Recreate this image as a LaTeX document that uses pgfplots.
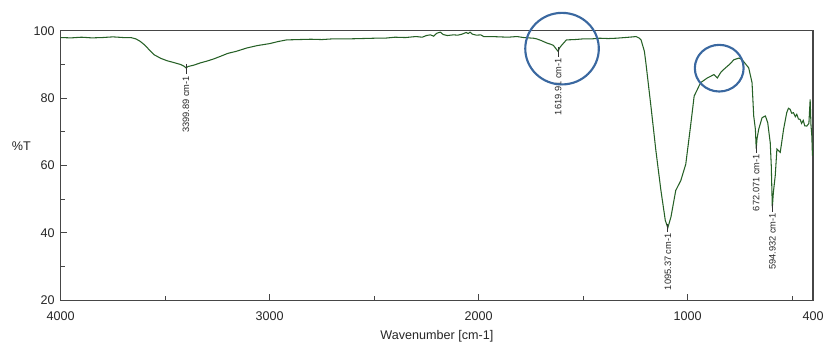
\documentclass[border=0pt]{standalone}
\usepackage{fontspec}
\setmainfont{Liberation Sans}
\usepackage{pgfplots}
\pgfplotsset{compat=1.18}
\definecolor{trace}{RGB}{38,96,38}
\definecolor{circ}{RGB}{58,104,160}
\definecolor{axc}{RGB}{70,70,70}
\begin{document}
\begin{tikzpicture}
\begin{axis}[
  scale only axis, width=567.75pt, height=203.25pt,
  xmin=400, xmax=4000, ymin=20, ymax=100, x dir=reverse,
  clip=false,
  axis line style={axc, line width=1pt},
  xtick={1000,2000,3000,4000}, xticklabels={1000,2000,3000,4000},
  extra x ticks={400}, extra x tick labels={400}, extra x tick style={major tick length=0pt},
  minor xtick={500,1500,2500,3500},
  ytick={20,40,60,80,100},
  minor ytick={30,50,70,90},
  tick align=inside, major tick length=5pt, minor tick length=3pt,
  tick style={axc, line width=0.8pt},
  xtick pos=bottom, ytick pos=left,
  /pgf/number format/assume math mode=true,
  /pgf/number format/1000 sep={},
  tick label style={font=\fontsize{9.5}{10}\selectfont, text=black!85},
  xticklabel style={yshift=-5pt},
  yticklabel style={xshift=-1pt},
  xlabel={Wavenumber [cm-1]},
  xlabel style={font=\fontsize{9.5}{10}\selectfont, text=black!85, yshift=-1pt},
]
\addplot[trace, line width=0.8pt] coordinates {
(4000,98.0)(3950,97.9)(3900,98.1)(3850,97.9)(3800,98.0)(3750,98.2)(3700,98.0)(3664,98.0)
(3640,97.6)(3620,96.9)(3600,95.9)(3575,94.3)(3553,92.9)(3520,91.8)(3490,91.1)(3460,90.6)
(3426,90.0)(3410,89.5)(3400,89.0)(3390,89.4)(3363,89.8)(3330,90.5)(3300,91.0)(3270,91.6)
(3236,92.4)(3200,93.3)(3160,93.9)(3109,94.9)(3060,95.6)(3000,96.2)(2960,96.8)(2919,97.3)
(2860,97.4)(2802,97.5)(2750,97.4)(2700,97.6)(2626,97.6)(2560,97.7)(2500,97.8)(2451,97.8)
(2400,98.1)(2350,98.0)(2300,98.3)(2270,98.1)(2250,98.6)(2231,98.8)(2215,98.4)(2200,99.3)
(2183,99.6)(2170,98.9)(2150,98.6)(2120,98.8)(2100,98.7)(2080,99.0)(2060,99.5)(2050,99.2)
(2041,99.6)(2030,99.0)(2010,98.7)(1990,98.8)(1976,98.3)(1940,98.3)(1900,98.2)(1860,98.1)
(1817,98.3)(1785,98.0)(1738,97.8)(1722,97.6)(1700,97.1)(1675,96.4)(1655,96.0)(1643,95.7)
(1620,93.9)(1612,95.0)(1603,95.7)(1580,97.3)(1540,97.4)(1500,97.6)(1460,97.6)(1421,97.8)
(1380,97.7)(1342,97.8)(1300,98.0)(1262,98.2)(1247,98.3)(1231,97.8)(1223,97.3)(1207,93.9)
(1199,90.0)(1175,77.2)(1152,64.4)(1128,52.6)(1107,43.7)(1095,41.5)(1080,44.7)(1057,52.6)
(1033,55.5)(1009,60.4)(985,72.3)(969,80.6)(938,84.6)(906,86.0)(874,87.0)(858,86.0)
(840,87.8)(819,89.0)(800,90.0)(779,91.4)(755,91.9)(739,91.4)(708,89.0)(692,84.6)
(684,74.7)(676,70.8)(672,65.0)(668,68.0)(660,70.8)(644,74.2)(628,74.7)(617,72.7)
(605,66.8)(600,60.0)(595,47.5)(590,52.0)(581,57.0)(573,64.9)(557,63.9)(541,70.8)
(526,75.7)(518,77.0)(510,76.7)(502,75.5)(494,75.7)(485,74.5)(478,75.2)(470,73.8)
(462,73.7)(455,72.5)(447,73.4)(440,71.8)(430,71.7)(420,72.5)(414,79.6)(410,72.0)
(406,68.8)(403,62.9)
};
% peak annotations
\tikzset{pk/.style={anchor=east, rotate=90, inner sep=1pt, font=\fontsize{7}{8}\selectfont, text=black!85}}
\draw[black!80, line width=0.5pt] (axis cs:3400,89.0) ++(0pt,3pt) -- ++(0pt,-8pt) node[pk]{3399.89 cm-1};
\draw[black!80, line width=0.5pt] (axis cs:1620,93.9) ++(0pt,3pt) -- ++(0pt,-7pt) node[pk]{1619.91 cm-1};
\draw[black!80, line width=0.5pt] (axis cs:1095,41.5) ++(0pt,3pt) -- ++(0pt,-6pt) node[pk]{1095.37 cm-1};
\draw[black!80, line width=0.5pt] (axis cs:672,65.0) ++(0pt,3pt) -- ++(0pt,-6pt) node[pk]{672.071 cm-1};
\draw[black!80, line width=0.5pt] (axis cs:595,47.5) ++(0pt,3pt) -- ++(0pt,-6pt) node[pk]{594.932 cm-1};
% highlight circles
\draw[circ, line width=1.6pt] (axis cs:1601,94.7) ellipse [x radius=27.75pt, y radius=27pt];
\draw[circ, line width=1.6pt] (axis cs:849,88.9) ellipse [x radius=18.4pt, y radius=17.6pt];
% y label
\node[anchor=east, font=\fontsize{9.5}{10}\selectfont, text=black!85] at (rel axis cs:0,0.57) [xshift=-19pt] {\%T};
% picture frame (invisible)
\path (rel axis cs:0,0) -- ++(-45.75pt,-30pt);
\path (rel axis cs:1,1) -- ++(7.5pt,23.25pt);
\end{axis}
\end{tikzpicture}
\end{document}
